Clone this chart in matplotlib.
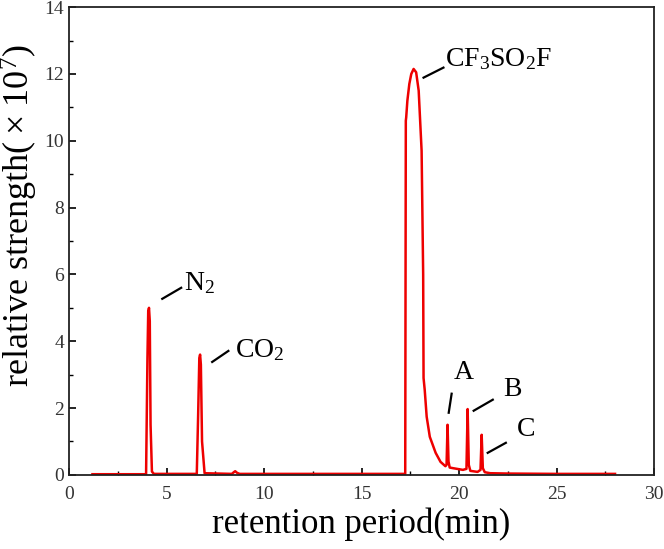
import matplotlib
matplotlib.use("Agg")
import matplotlib.pyplot as plt
from matplotlib.ticker import MultipleLocator

# retention time (min) and relative strength (x10^7)
time = [1.2, 3.95, 4.02, 4.06, 4.10, 4.14, 4.18, 4.25, 4.35,
        6.55, 6.62, 6.68, 6.72, 6.76, 6.82, 6.95,
        8.35, 8.45, 8.52, 8.62, 8.75,
        17.24, 17.27, 17.29, 17.35, 17.45, 17.55, 17.67, 17.8, 17.93, 18.08, 18.16,
        18.18, 18.24, 18.34, 18.5, 18.8, 19.05, 19.3,
        19.36, 19.41, 19.46, 19.52, 19.7, 20.2, 20.38,
        20.44, 20.5, 20.58, 20.95, 21.1, 21.16, 21.22, 21.32,
        21.6, 22.5, 25.0, 28.0]
strength = [0.02, 0.02, 3.5, 4.9, 5.0, 4.6, 1.5, 0.1, 0.03,
            0.03, 1.8, 3.5, 3.6, 3.3, 1.0, 0.05,
            0.03, 0.08, 0.11, 0.06, 0.03,
            0.03, 10.6, 10.7, 11.2, 11.7, 12.0, 12.15, 12.05, 11.5, 9.7, 6.0,
            2.9, 2.54, 1.74, 1.14, 0.66, 0.39, 0.26,
            0.3, 1.5, 0.4, 0.22, 0.2, 0.15, 0.18,
            1.97, 0.3, 0.12, 0.09, 0.15, 1.2, 0.2, 0.08,
            0.05, 0.04, 0.03, 0.03]

# annotations: label, text position, leader line start/end
labels = [r"N$_2$", r"CO$_2$", r"CF$_3$SO$_2$F", "A", "B", "C"]
text_xy = [(5.9, 5.75), (8.5, 3.72), (19.3, 12.45), (19.75, 3.05), (22.25, 2.55), (22.95, 1.35)]
line_from = [(4.78, 5.27), (7.34, 3.38), (18.18, 11.89), (19.47, 1.86), (20.75, 1.92), (21.47, 0.66)]
line_to = [(5.75, 5.6), (8.17, 3.71), (19.2, 12.19), (19.62, 2.43), (21.73, 2.25), (22.4, 0.96)]

plt.rcParams["font.family"] = ["Liberation Serif", "DejaVu Serif"]
plt.rcParams["mathtext.fontset"] = "custom"
plt.rcParams["mathtext.rm"] = "Liberation Serif"
plt.rcParams["mathtext.it"] = "Liberation Serif:italic"

fig = plt.figure(figsize=(6.64, 5.49), dpi=100)
ax = fig.add_axes([0.104, 0.135, 0.881, 0.852])

ax.plot(time, strength, color="#ee0000", lw=1.8, solid_joinstyle="round")

for lab, (tx, ty), (x0, y0), (x1, y1) in zip(labels, text_xy, line_from, line_to):
    ax.plot([x0, x1], [y0, y1], color="black", lw=1.6)
    ax.text(tx, ty, lab, fontsize=20, ha="left", va="center")

ax.set_xlim(0, 30)
ax.set_ylim(0, 14)
ax.xaxis.set_major_locator(MultipleLocator(5))
ax.xaxis.set_minor_locator(MultipleLocator(2.5))
ax.yaxis.set_major_locator(MultipleLocator(2))
ax.yaxis.set_minor_locator(MultipleLocator(1))
ax.tick_params(which="both", direction="in", labelsize=14, colors="black", labelcolor="#333333")
ax.tick_params(which="major", length=5, width=1.2)
ax.tick_params(which="minor", length=3, width=1.0)
ax.tick_params(axis="x", pad=8)
for s in ax.spines.values():
    s.set_linewidth(1.3)
    s.set_color("#222222")

ax.set_xlabel("retention period(min)", fontsize=25)
ax.set_ylabel("relative strength(\u2009×\u200910$^7$)", fontsize=26)
ax.yaxis.set_label_coords(-0.05, 0.555)
ax.xaxis.set_label_coords(0.5, -0.07)

fig.savefig("out.png", dpi=100)
